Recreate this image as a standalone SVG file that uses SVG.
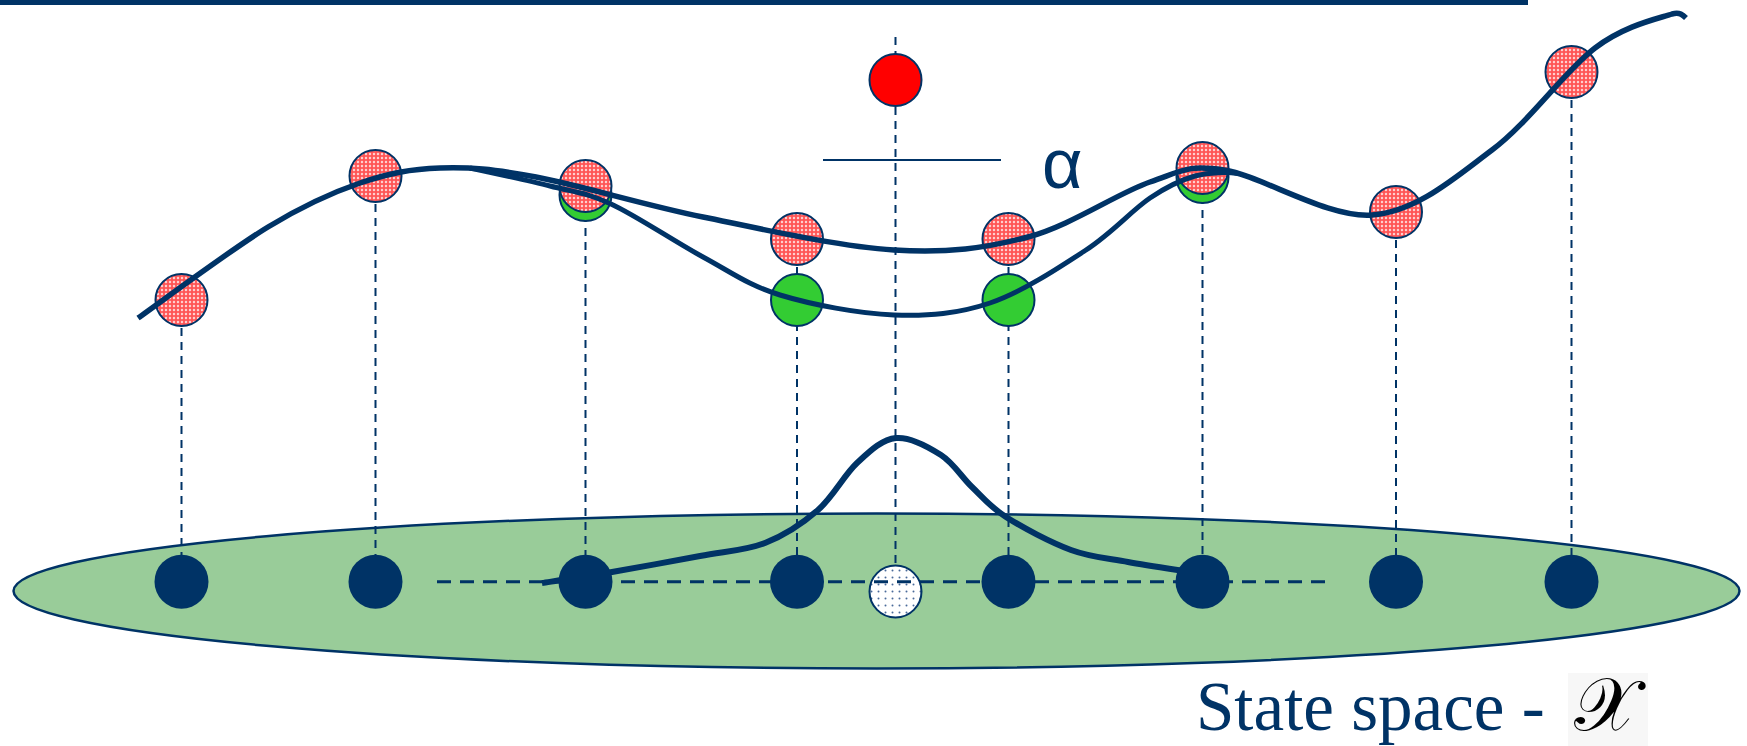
<svg xmlns="http://www.w3.org/2000/svg" width="1747" height="746" viewBox="0 0 1747 746">
<style>
.vd{stroke:#003366;stroke-width:2;stroke-dasharray:8 6;fill:none}
.hd{stroke:#003366;stroke-width:3;stroke-dasharray:14 9;fill:none}
.curve{stroke:#003366;stroke-width:5.5;fill:none;stroke-linecap:butt;stroke-linejoin:round}
.pink{fill:url(#hatch);stroke:#003366;stroke-width:2}
.green{fill:#33cc33;stroke:#003366;stroke-width:2}
.navy{fill:#003366}
.lbl{fill:#003366}
</style>
<defs>
<pattern id="hatch" width="4" height="4" patternUnits="userSpaceOnUse">
<rect width="4" height="4" fill="#ff5555"/>
<path d="M2 0.6 L3.4 2 L2 3.4 L0.6 2 Z" fill="#ffe4e4"/>
</pattern>
<pattern id="dots" width="7" height="7" patternUnits="userSpaceOnUse">
<rect width="7" height="7" fill="#ffffff"/>
<circle cx="3.5" cy="3.5" r="1" fill="#4a6a9a"/>
</pattern>
</defs>

<rect x="0" y="0" width="1528" height="5" fill="#003366"/>

<g id="state-space">
<ellipse cx="876.5" cy="591" rx="863" ry="77.5" fill="#99cc99" stroke="#003366" stroke-width="2.5"/>
</g>

<g id="connectors">
<line class="vd" x1="181.5" y1="300" x2="181.5" y2="582"/>
<line class="vd" x1="375.5" y1="176" x2="375.5" y2="582"/>
<line class="vd" x1="585.5" y1="186" x2="585.5" y2="582"/>
<line class="vd" x1="797" y1="239" x2="797" y2="582"/>
<line class="vd" x1="895.5" y1="37" x2="895.5" y2="566"/>
<line class="vd" x1="1008.5" y1="239" x2="1008.5" y2="582"/>
<line class="vd" x1="1202.5" y1="168" x2="1202.5" y2="582"/>
<line class="vd" x1="1396" y1="212" x2="1396" y2="582"/>
<line class="vd" x1="1571.5" y1="72" x2="1571.5" y2="582"/>
<line x1="823" y1="160" x2="1001" y2="160" stroke="#003366" stroke-width="2"/>
</g>

<g id="query-point">
<circle cx="895.5" cy="591.5" r="26" fill="url(#dots)" stroke="#003366" stroke-width="2"/>
</g>

<g id="baseline-dashes">
<line class="hd" x1="437" y1="581.7" x2="1332" y2="581.7"/>
</g>

<g id="kernel-curve">
<path class="curve" style="stroke-width:6" d="M542,583 C553.7,581.2 585.7,576.5 612,572 C638.3,567.5 674.5,560.8 700,556 C725.5,551.2 745.3,550.7 765,543 C784.7,535.3 802.7,523.3 818,510 C833.3,496.7 844,475 857,463 C870,451 882,439.3 896,438 C910,436.7 928.3,446.8 941,455 C953.7,463.2 961.2,476.7 972,487 C982.8,497.3 989.5,506.5 1006,517 C1022.5,527.5 1050.7,542.5 1071,550 C1091.3,557.5 1108.2,558.3 1128,562 C1147.8,565.7 1179.7,570.3 1190,572"/>
</g>

<g id="states">
<circle class="navy" cx="181.5" cy="581.7" r="27"/>
<circle class="navy" cx="375.5" cy="581.7" r="27"/>
<circle class="navy" cx="585.5" cy="581.7" r="27"/>
<circle class="navy" cx="797" cy="581.7" r="27"/>
<circle class="navy" cx="1008.5" cy="581.7" r="27"/>
<circle class="navy" cx="1202.5" cy="581.7" r="27"/>
<circle class="navy" cx="1396" cy="581.7" r="27"/>
<circle class="navy" cx="1571.5" cy="581.7" r="27"/>
</g>

<g id="green-samples">
<circle class="green" cx="585.5" cy="195" r="26"/>
<circle class="green" cx="797" cy="300" r="26"/>
<circle class="green" cx="1008.5" cy="300" r="26"/>
<circle class="green" cx="1202.5" cy="177" r="26"/>
</g>

<g id="pink-samples">
<circle class="pink" cx="181.5" cy="300" r="26"/>
<circle class="pink" cx="375.5" cy="176" r="26"/>
<circle class="pink" cx="585.5" cy="186" r="26"/>
<circle class="pink" cx="797" cy="239" r="26"/>
<circle class="pink" cx="1008.5" cy="239" r="26"/>
<circle class="pink" cx="1202.5" cy="168" r="26"/>
<circle class="pink" cx="1396" cy="212" r="26"/>
<circle class="pink" cx="1571.5" cy="72" r="26"/>
</g>

<g id="red-point">
<circle cx="895.5" cy="80" r="26" fill="#ff0000" stroke="#003366" stroke-width="2"/>
</g>

<g id="curves">
<path class="curve" d="M138,318 C159.7,302.8 231,249.5 268,227 C305,204.5 331.3,192.8 360,183 C388.7,173.2 410.7,169 440,168 C469.3,167 492.2,168.8 536,177 C579.8,185.2 643.3,204.8 703,217 C762.7,229.2 839.8,246.7 894,250 C948.2,253.3 985.3,248.3 1028,237 C1070.7,225.7 1117.3,193.2 1150,182 C1182.7,170.8 1187,164.5 1224,170 C1261,175.5 1327.3,218.3 1372,215 C1416.7,211.7 1454.8,177.8 1492,150 C1529.2,122.2 1565,70.7 1595,48 C1625,25.3 1656.8,19 1672,14 C1680,12 1683,15 1686,18"/>
<path class="curve" style="stroke-width:5" d="M470,168 C483.3,171 526.5,180 550,186 C573.5,192 585.5,192.2 611,204 C636.5,215.8 674.8,241.8 703,257 C731.2,272.2 748.2,285.3 780,295 C811.8,304.7 859,313.7 894,315 C929,316.3 958,313.8 990,303 C1022,292.2 1059.3,267.5 1086,250 C1112.7,232.5 1131.8,210.3 1150,198 C1168.2,185.7 1180.3,180.1 1195,176 C1209.7,171.9 1228,172 1238,173.5"/>
</g>

<g id="labels">
<text class="lbl" x="1042" y="188" font-family="Liberation Sans, Arial, sans-serif" font-size="70">α</text>
<text class="lbl" x="1196" y="730" font-family="Liberation Serif, Times New Roman, serif" font-size="69">State space - </text>
<rect x="1568" y="673" width="80" height="73" fill="#f7f7f7"/>
<text x="1574" y="730" font-family="DejaVu Serif, DejaVu Sans, Noto Sans, serif" font-size="74" fill="#000000">𝒳</text>
</g>
</svg>
